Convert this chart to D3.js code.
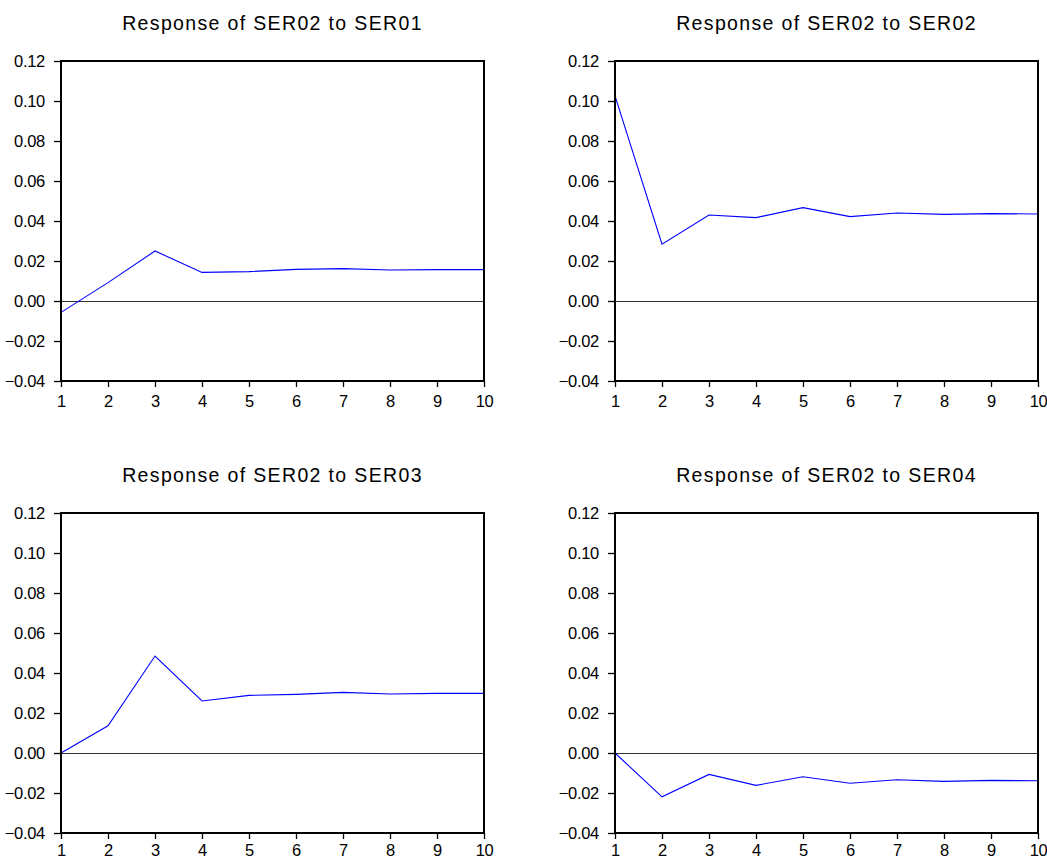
<!DOCTYPE html>
<html>
<head>
<meta charset="utf-8">
<script src="https://cdn.jsdelivr.net/npm/d3@7"></script>
<style>
  body { margin: 0; background: #fff; }
  svg { display: block; }
  text { font-family: "Liberation Sans", Arial, sans-serif; fill: #000; }
</style>
</head>
<body>
<div class="container"></div>
<script>
const periods = [1, 2, 3, 4, 5, 6, 7, 8, 9, 10];
const yTicks = [-0.04, -0.02, 0.00, 0.02, 0.04, 0.06, 0.08, 0.10, 0.12];

const titles = [
  "Response of SER02 to SER01",
  "Response of SER02 to SER02",
  "Response of SER02 to SER03",
  "Response of SER02 to SER04"
];

const ser01 = [-0.0057, 0.0092, 0.0250, 0.0143, 0.0147, 0.0158, 0.0162, 0.0155, 0.0157, 0.0157];
const ser02 = [0.1026, 0.0284, 0.0430, 0.0417, 0.0467, 0.0422, 0.0440, 0.0433, 0.0437, 0.0435];
const ser03 = [0.0000, 0.0136, 0.0485, 0.0260, 0.0288, 0.0293, 0.0303, 0.0295, 0.0298, 0.0298];
const ser04 = [0.0000, -0.0219, -0.0107, -0.0162, -0.0119, -0.0151, -0.0134, -0.0142, -0.0137, -0.0139];

const series = [ser01, ser02, ser03, ser04];

const w = 1047;
const h = 860;

// panel frame positions
const left0 = 61, dx = 554;
const top0 = 61, dy = 452;
const pw = 423, ph = 320;

const svg = d3.select(".container")
  .append("svg")
  .attr("width", w)
  .attr("height", h);

series.forEach((vals, k) => {
  const col = k % 2, row = Math.floor(k / 2);
  const x0 = left0 + col * dx;
  const y0 = top0 + row * dy;

  const xScale = d3.scaleLinear()
    .domain([1, 10])
    .range([x0, x0 + pw]);
  const yScale = d3.scaleLinear()
    .domain([-0.04, 0.12])
    .range([y0 + ph, y0]);

  const g = svg.append("g");

  // title
  g.append("text")
    .attr("x", x0 + pw / 2)
    .attr("y", y0 - 31)
    .attr("text-anchor", "middle")
    .style("font-size", "19.5px")
    .style("letter-spacing", "1.35px")
    .text(titles[k]);

  // zero line (half pixel so it stays crisp)
  g.append("line")
    .attr("x1", xScale(1))
    .attr("x2", xScale(10))
    .attr("y1", yScale(0) + 0.5)
    .attr("y2", yScale(0) + 0.5)
    .attr("stroke", "#333")
    .attr("stroke-width", 1);

  // response line
  const line = d3.line()
    .x((d, i) => xScale(periods[i]))
    .y(d => yScale(d));
  g.append("path")
    .datum(vals)
    .attr("fill", "none")
    .attr("stroke", "#0000ff")
    .attr("stroke-width", 1.1)
    .attr("d", line);

  // axes
  const yAxis = d3.axisLeft(yScale)
    .tickValues(yTicks)
    .tickSize(7)
    .tickPadding(9)
    .tickFormat(d3.format(".2f"));
  // bottom row labels sit right at the page edge, pull them up a little
  const xAxis = d3.axisBottom(xScale)
    .tickValues(periods)
    .tickSize(6)
    .tickPadding(row === 0 ? 8 : 5)
    .tickFormat(d3.format("d"));

  const ya = g.append("g")
    .attr("transform", "translate(" + x0 + ",0)")
    .call(yAxis);
  const xa = g.append("g")
    .attr("transform", "translate(0," + (y0 + ph) + ")")
    .call(xAxis);

  [ya, xa].forEach(a => {
    a.attr("font-size", 16.5).attr("font-family", null);
    a.select(".domain").remove();
    a.selectAll("line").attr("stroke", "#000").attr("stroke-width", 1.3);
    a.selectAll("text")
      .style("font-size", "16.5px")
      .style("letter-spacing", "-0.3px")
      .attr("fill", "#000");
  });

  // frame
  g.append("rect")
    .attr("x", x0)
    .attr("y", y0)
    .attr("width", pw)
    .attr("height", ph)
    .attr("fill", "none")
    .attr("stroke", "#000")
    .attr("stroke-width", 2);
});
</script>
</body>
</html>
